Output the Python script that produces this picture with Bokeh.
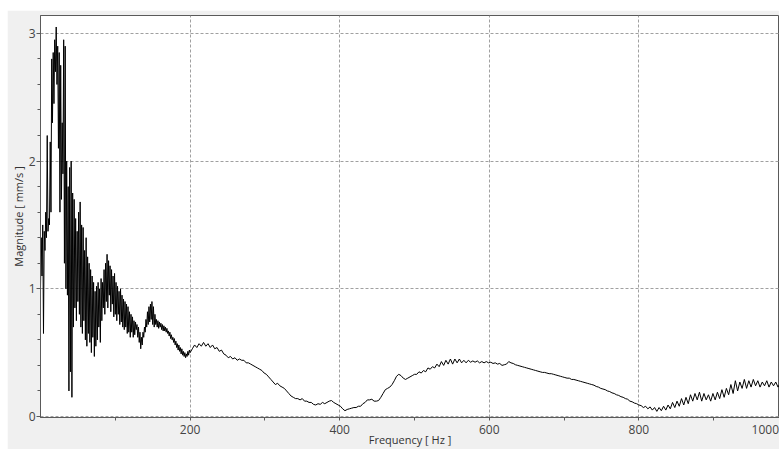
from bokeh.plotting import figure
from bokeh.models import Range1d, FixedTicker, SingleIntervalTicker
from bokeh.embed import file_html
from bokeh.resources import INLINE

# ---- data ----
# 0 .. 200 Hz, 1 Hz spacing
freq_low_start, freq_low_step = 0, 1
mag_low = [
    1.00, 1.40, 1.10, 1.50, 0.65, 1.45, 1.30, 1.60, 1.40, 2.20,
    1.45, 1.55, 1.50, 2.15, 1.60, 2.80, 2.30, 2.85, 2.45, 2.95,
    2.70, 3.05, 2.60, 2.90, 2.10, 2.85, 1.60, 2.75, 1.70, 2.30,
    1.90, 2.95, 1.20, 2.90, 1.00, 2.00, 0.95, 1.80, 0.20, 1.95,
    0.35, 2.00, 0.15, 1.75, 0.70, 1.70, 0.85, 1.55, 0.75, 1.45,
    0.90, 1.60, 0.80, 1.68, 0.70, 1.50, 0.65, 1.48, 0.75, 1.30,
    0.60, 1.40, 0.55, 1.25, 0.65, 1.20, 0.58, 1.15, 0.50, 1.10,
    0.62, 1.05, 0.47, 0.98, 0.55, 1.02, 0.60, 1.05, 0.70, 1.00,
    0.58, 1.08, 0.75, 1.05, 0.85, 1.15, 0.80, 1.20, 0.90, 1.27,
    0.85, 1.22, 0.95, 1.18, 0.82, 1.15, 0.88, 1.10, 0.78, 1.12,
    0.80, 1.05, 0.75, 1.02, 0.80, 0.98, 0.72, 1.00, 0.74, 0.95,
    0.70, 0.92, 0.68, 0.90, 0.70, 0.88, 0.65, 0.86, 0.66, 0.82,
    0.62, 0.80, 0.66, 0.78, 0.62, 0.75, 0.64, 0.74, 0.68, 0.72,
    0.62, 0.70, 0.58, 0.66, 0.53, 0.62, 0.56, 0.66, 0.62, 0.70,
    0.66, 0.76, 0.70, 0.82, 0.72, 0.86, 0.74, 0.88, 0.76, 0.90,
    0.72, 0.86, 0.70, 0.80, 0.72, 0.76, 0.70, 0.75, 0.69, 0.74,
    0.70, 0.73, 0.68, 0.72, 0.67, 0.71, 0.67, 0.70, 0.66, 0.69,
    0.65, 0.67, 0.63, 0.66, 0.61, 0.64, 0.60, 0.62, 0.58, 0.61,
    0.56, 0.59, 0.54, 0.57, 0.52, 0.56, 0.51, 0.54, 0.49, 0.53,
    0.48, 0.51, 0.47, 0.50, 0.46, 0.49, 0.47, 0.51, 0.48, 0.52,
    0.50,
]
# 203 .. 500 Hz, 3 Hz spacing
freq_mid_start, freq_mid_step = 203, 3
mag_mid = [
    0.53, 0.56, 0.54, 0.57, 0.55, 0.58, 0.55, 0.57, 0.54, 0.56,
    0.53, 0.54, 0.51, 0.52, 0.49, 0.48, 0.46, 0.47, 0.45, 0.46,
    0.44, 0.45, 0.44, 0.44, 0.42, 0.42, 0.41, 0.40, 0.39, 0.38,
    0.37, 0.36, 0.34, 0.33, 0.31, 0.29, 0.27, 0.25, 0.26, 0.24,
    0.23, 0.22, 0.20, 0.18, 0.16, 0.15, 0.14, 0.14, 0.13, 0.14,
    0.12, 0.12, 0.11, 0.11, 0.095, 0.09, 0.10, 0.095, 0.11, 0.10,
    0.11, 0.12, 0.125, 0.11, 0.10, 0.09, 0.08, 0.06, 0.045, 0.055,
    0.06, 0.065, 0.07, 0.07, 0.08, 0.08, 0.10, 0.11, 0.13, 0.13,
    0.135, 0.12, 0.12, 0.125, 0.15, 0.18, 0.21, 0.22, 0.23, 0.25,
    0.28, 0.315, 0.33, 0.32, 0.30, 0.29, 0.30, 0.31, 0.32, 0.33,
]
# 503 .. 989 Hz, 3 Hz spacing
freq_high_start, freq_high_step = 503, 3
mag_high = [
    0.33, 0.35, 0.34, 0.36, 0.35, 0.38, 0.37, 0.39, 0.38, 0.41,
    0.39, 0.43, 0.40, 0.44, 0.41, 0.45, 0.41, 0.45, 0.42, 0.45,
    0.42, 0.44, 0.42, 0.44, 0.425, 0.435, 0.425, 0.435, 0.42, 0.43,
    0.42, 0.43, 0.42, 0.425, 0.415, 0.42, 0.41, 0.415, 0.40, 0.405,
    0.41, 0.43, 0.42, 0.415, 0.405, 0.40, 0.395, 0.39, 0.385, 0.38,
    0.375, 0.37, 0.365, 0.36, 0.355, 0.35, 0.345, 0.345, 0.34, 0.335,
    0.335, 0.33, 0.325, 0.32, 0.315, 0.31, 0.305, 0.30, 0.30, 0.29,
    0.29, 0.285, 0.28, 0.275, 0.27, 0.265, 0.26, 0.255, 0.25, 0.245,
    0.235, 0.23, 0.22, 0.215, 0.21, 0.20, 0.195, 0.185, 0.18, 0.17,
    0.165, 0.155, 0.15, 0.14, 0.135, 0.12, 0.115, 0.105, 0.10, 0.09,
    0.085, 0.07, 0.08, 0.06, 0.075, 0.05, 0.07, 0.04, 0.07, 0.045,
    0.08, 0.05, 0.09, 0.06, 0.11, 0.07, 0.12, 0.08, 0.14, 0.09,
    0.15, 0.10, 0.17, 0.12, 0.18, 0.13, 0.19, 0.12, 0.18, 0.13,
    0.17, 0.12, 0.18, 0.13, 0.19, 0.14, 0.21, 0.15, 0.22, 0.17,
    0.25, 0.18, 0.28, 0.20, 0.27, 0.22, 0.29, 0.22, 0.28, 0.23,
    0.29, 0.24, 0.28, 0.23, 0.27, 0.24, 0.28, 0.23, 0.27, 0.24,
    0.27, 0.23, 0.26,
]
x_ticks = [200, 400, 600, 800]
x_tick_marks = [100, 200, 300, 400, 500, 600, 700, 800, 900]
x_edge_label = "1000"          # last tick label, squeezed in at the right edge
x_edge_label_pos = 969
x_label = "Frequency [ Hz ]"
y_label = "Magnitude [ mm/s ]"

freq = ([freq_low_start + freq_low_step * i for i in range(len(mag_low))]
        + [freq_mid_start + freq_mid_step * i for i in range(len(mag_mid))]
        + [freq_high_start + freq_high_step * i for i in range(len(mag_high))])
mag = mag_low + mag_mid + mag_high

FONT = "Open Sans"
TXT = "#444444"
AX = "#5a5a5a"

p = figure(width=772, height=439, margin=(10, 0, 4, 7),
           output_backend="svg", toolbar_location=None,
           x_range=Range1d(0, 988), y_range=Range1d(-0.008, 3.14),
           min_border_left=31, min_border_right=0, min_border_top=5, min_border_bottom=31)

p.border_fill_color = "#f0f0f0"
p.background_fill_color = "white"
p.outline_line_color = AX
p.outline_line_width = 1

p.line(freq, mag, line_color="black", line_width=1)

# axes
p.xaxis.ticker = FixedTicker(ticks=x_ticks + [x_edge_label_pos], minor_ticks=x_tick_marks)
p.xaxis.major_label_overrides = {x_edge_label_pos: x_edge_label}
p.yaxis.ticker = SingleIntervalTicker(interval=1, num_minor_ticks=5)
for ax in (p.xaxis[0], p.yaxis[0]):
    ax.axis_line_color = AX
    ax.major_tick_line_color = AX
    ax.minor_tick_line_color = AX
    ax.major_tick_in = 0
    ax.major_tick_out = 4
    ax.minor_tick_in = 0
    ax.minor_tick_out = 3
    ax.major_label_text_font = FONT
    ax.major_label_text_font_size = "12px"
    ax.major_label_text_color = TXT
    ax.axis_label_text_font = FONT
    ax.axis_label_text_font_size = "11px"
    ax.axis_label_text_font_style = "normal"
    ax.axis_label_text_color = "#333333"
    ax.major_label_standoff = 1
    ax.axis_label_standoff = 0

# x: tick marks come from the minor ticks only
p.xaxis.major_tick_out = 0
p.xaxis.major_tick_line_color = None
p.xaxis.major_label_standoff = 4
p.xaxis.axis_label_standoff = -5

p.xaxis.axis_label = x_label
p.yaxis.axis_label = y_label

# grid
p.xgrid.ticker = FixedTicker(ticks=x_ticks)
for g in (p.xgrid[0], p.ygrid[0]):
    g.grid_line_color = "#a0a0a0"
    g.grid_line_dash = "3 2"
    g.grid_line_width = 1

open("out.html", "w").write(file_html(p, INLINE))
